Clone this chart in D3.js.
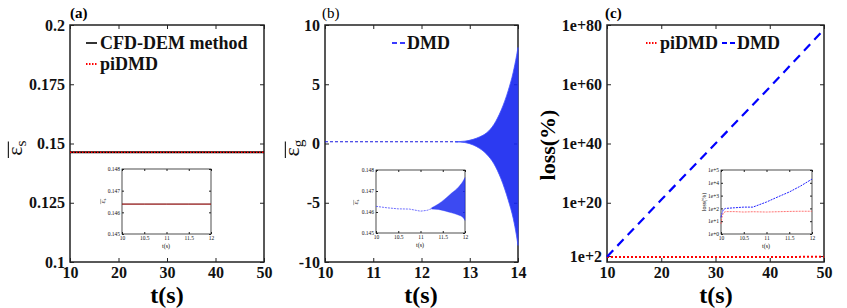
<!DOCTYPE html>
<html>
<head>
<meta charset="utf-8">
<script src="https://cdn.jsdelivr.net/npm/d3@7"></script>
<style>
body { margin: 0; background: #fff; }
</style>
</head>
<body>
<svg id="chart"></svg>
<script>
// ---- data ----
// (a) mean solid fraction, CFD-DEM vs piDMD
var timeA = [10, 20, 30, 40, 50];
var cfdDemA = [0.1463, 0.1463, 0.1463, 0.1463, 0.1463];
var piDmdA = [0.1463, 0.1463, 0.1463, 0.1463, 0.1463];
var insetTimeA = [10, 10.5, 11, 11.5, 12];
var insetCfdA = [0.14638, 0.14638, 0.14638, 0.14638, 0.14638];
var insetPiA = [0.14638, 0.14638, 0.14638, 0.14638, 0.14638];

// (b) DMD, flat then blowing up
var timeB = [10, 11, 12, 12.5, 12.8];
var dmdB = [0.146, 0.146, 0.146, 0.146, 0.146];
var envTimeB = [12.7, 12.9, 13.07, 13.2, 13.35, 13.5, 13.65, 13.8, 13.9, 13.97, 14.0];
var envHiB = [0.15, 0.2, 0.35, 0.55, 0.9, 1.6, 2.8, 4.5, 6.0, 7.4, 8.1];
var envLoB = [0.14, 0.08, -0.12, -0.4, -0.9, -1.7, -3.0, -4.8, -6.3, -7.8, -8.6];
var insetTimeB = [10, 10.25, 10.5, 10.75, 11, 11.15, 11.3];
var insetDmdB = [0.14627, 0.14620, 0.14615, 0.14614, 0.14604, 0.14608, 0.14620];
var insetEnvTimeB = [11.25, 11.4, 11.55, 11.7, 11.85, 11.95, 12];
var insetEnvHiB = [0.14620, 0.14638, 0.14662, 0.14690, 0.14718, 0.14745, 0.14764];
var insetEnvLoB = [0.14614, 0.14612, 0.14605, 0.14596, 0.14586, 0.14575, 0.14560];

// (c) loss (%) on log axis
var timeC = [10, 20, 30, 40, 50];
var piDmdC = [50, 52, 52, 52, 55];
var dmdC = [60, 1e21, 1e40, 1e59, 3e78];
var insetTimeC = [10, 10.02, 10.05, 10.1, 10.3, 10.5, 10.7, 11, 11.25, 11.5, 11.75, 12];
var insetDmdC = [20, 40, 79, 100, 112, 126, 126, 316, 794, 1905, 5623, 19498];
var insetPiC = [6.2, 20, 45, 56, 56, 52, 55, 52, 55, 58, 60, 60];

var ticksA = [0.1, 0.125, 0.15, 0.175, 0.2];
var ticksB = [-10, -5, 0, 5, 10];
var ticksC = [1e2, 1e20, 1e40, 1e60, 1e80];
var tickLabelsC = ["1e+2", "1e+20", "1e+40", "1e+60", "1e+80"];
var insetTicksC = [1, 10, 100, 1e3, 1e4, 1e5];
var insetTickLabelsC = ["1e+0", "1e+1", "1e+2", "1e+3", "1e+4", "1e+5"];

var svg = d3.select("#chart").attr("width", 847).attr("height", 308);
var plain = function (d) { return d; };

function box(g, x, y, len, labels, fs, fw, pad, yFmt, xTicks, yTicks) {
  var x0 = x.range()[0], x1 = x.range()[1], y0 = y.range()[0], y1 = y.range()[1];
  var bottom = d3.axisBottom(x).tickValues(xTicks).tickSizeInner(-len).tickSizeOuter(0).tickPadding(pad).tickFormat(plain);
  var left = d3.axisLeft(y).tickValues(yTicks).tickSizeInner(-len).tickSizeOuter(0).tickPadding(pad).tickFormat(yFmt);
  var gb = g.append("g").attr("transform", "translate(0," + y0 + ")").call(bottom);
  var gl = g.append("g").attr("transform", "translate(" + x0 + ",0)").call(left);
  g.append("g").attr("transform", "translate(0," + y1 + ")")
    .call(d3.axisTop(x).tickValues(xTicks).tickSizeInner(-len).tickSizeOuter(0).tickFormat(""));
  g.append("g").attr("transform", "translate(" + x1 + ",0)")
    .call(d3.axisRight(y).tickValues(yTicks).tickSizeInner(-len).tickSizeOuter(0).tickFormat(""));
  g.selectAll(".domain").remove();
  g.selectAll(".tick line").attr("stroke", "#222");
  [gb, gl].forEach(function (a) {
    a.selectAll("text").attr("font-size", fs).attr("font-weight", fw).attr("fill", "#111");
  });
  g.append("rect").attr("x", x0).attr("y", y1).attr("width", x1 - x0).attr("height", y0 - y1)
    .attr("fill", "none").attr("stroke", "#222").attr("stroke-width", labels ? 1.5 : 0.8);
  return { bottom: gb, left: gl };
}

function lineOf(x, y, xs, ys) {
  return d3.line().x(function (d, i) { return x(xs[i]); }).y(function (d, i) { return y(ys[i]); })(xs);
}
function areaOf(x, y, xs, hi, lo) {
  return d3.area().curve(d3.curveMonotoneX).x(function (d, i) { return x(xs[i]); })
    .y0(function (d, i) { return y(lo[i]); }).y1(function (d, i) { return y(hi[i]); })(xs);
}

function epsLabel(g, cx, cy, sub, size) {
  var lg = g.append("g").attr("transform", "translate(" + cx + "," + cy + ") rotate(-90)");
  var t = lg.append("text").attr("text-anchor", "middle").attr("font-size", size).attr("fill", "#111");
  t.append("tspan").text("ε");
  t.append("tspan").attr("font-size", size * 0.7).attr("dy", size * 0.2).text(sub);
  lg.append("line").attr("x1", -size * 0.45).attr("x2", size * 0.3)
    .attr("y1", -size * 0.62).attr("y2", -size * 0.62).attr("stroke", "#111").attr("stroke-width", size * 0.05);
}

function legendItem(g, x, y, kind, color, label) {
  var l = g.append("line").attr("x1", x).attr("x2", x + 11).attr("y1", y).attr("y2", y)
    .attr("stroke", color).attr("stroke-width", kind === "solid" ? 1.6 : 2);
  if (kind === "dot") l.attr("stroke-dasharray", "1.5,1.5");
  if (kind === "dash") l.attr("x2", x + 13).attr("stroke-dasharray", "5,3");
  g.append("text").attr("x", x + (kind === "dash" ? 15 : 14)).attr("y", y + 6)
    .attr("font-size", 18).attr("font-weight", "bold").attr("fill", "#111").text(label);
}

function xTitle(g, cx) {
  g.append("text").attr("x", cx).attr("y", 303).attr("text-anchor", "middle")
    .attr("font-size", 24).attr("font-weight", "bold").text("t(s)");
}

// ---------- panel (a) ----------
var gA = svg.append("g");
var xA = d3.scaleLinear().domain([10, 50]).range([70, 264]);
var yA = d3.scaleLinear().domain([0.1, 0.2]).range([262, 25]);
box(gA, xA, yA, 4, true, 16, "bold", 5, plain, [10, 20, 30, 40, 50], ticksA);
gA.append("path").attr("d", lineOf(xA, yA, timeA, cfdDemA)).attr("fill", "none").attr("stroke", "#000").attr("stroke-width", 2);
gA.append("path").attr("d", lineOf(xA, yA, timeA, piDmdA)).attr("fill", "none").attr("stroke", "#ff0000")
  .attr("stroke-width", 1.4).attr("stroke-dasharray", "1.5,1.5");
legendItem(gA, 86, 43, "solid", "#000", "CFD-DEM method");
legendItem(gA, 86, 64, "dot", "#ff0000", "piDMD");
gA.append("text").attr("x", 70).attr("y", 18).attr("font-size", 15).attr("font-weight", "bold").text("(a)");
xTitle(gA, 167);
epsLabel(gA, 22, 148, "s", 22);

// inset (a)
var ixA = d3.scaleLinear().domain([10, 12]).range([122, 211]);
var iyA = d3.scaleLinear().domain([0.145, 0.148]).range([234, 169]);
var giA = gA.append("g");
giA.append("rect").attr("x", 122).attr("y", 169).attr("width", 89).attr("height", 65).attr("fill", "#fff");
box(giA, ixA, iyA, 2, false, 5.5, "normal", 2, d3.format(".3f"), insetTimeA, [0.145, 0.146, 0.147, 0.148]);
giA.append("path").attr("d", lineOf(ixA, iyA, insetTimeA, insetCfdA)).attr("fill", "none").attr("stroke", "#000").attr("stroke-width", 0.8);
giA.append("path").attr("d", lineOf(ixA, iyA, insetTimeA, insetPiA)).attr("fill", "none").attr("stroke", "#e02020").attr("stroke-width", 0.8);
giA.append("text").attr("x", 166).attr("y", 248).attr("text-anchor", "middle").attr("font-size", 6).text("t(s)");
epsLabel(giA, 105, 201, "s", 7);

// ---------- panel (b) ----------
var gB = svg.append("g");
var xB = d3.scaleLinear().domain([10, 14]).range([325, 518]);
var yB = d3.scaleLinear().domain([-10, 10]).range([262, 25]);
box(gB, xB, yB, 4, true, 16, "bold", 5, plain, [10, 11, 12, 13, 14], ticksB);
gB.append("path").attr("d", lineOf(xB, yB, timeB, dmdB)).attr("fill", "none").attr("stroke", "#1a1ae0")
  .attr("stroke-width", 1.2).attr("stroke-dasharray", "3,2");
gB.append("path").attr("d", areaOf(xB, yB, envTimeB, envHiB, envLoB)).attr("fill", "#1525f0").attr("fill-opacity", 0.9)
  .attr("stroke", "#4050ff").attr("stroke-width", 0.8);
legendItem(gB, 392, 43, "dash", "#3a3aff", "DMD");
gB.append("text").attr("x", 322).attr("y", 18).attr("font-size", 15).text("(b)");
xTitle(gB, 421);
epsLabel(gB, 299, 148, "g", 22);

// inset (b)
var ixB = d3.scaleLinear().domain([10, 12]).range([376, 465]);
var iyB = d3.scaleLinear().domain([0.145, 0.148]).range([233, 170]);
var giB = gB.append("g");
giB.append("rect").attr("x", 376).attr("y", 170).attr("width", 89).attr("height", 63).attr("fill", "#fff");
box(giB, ixB, iyB, 2, false, 5.5, "normal", 2, d3.format(".3f"), [10, 10.5, 11, 11.5, 12], [0.145, 0.146, 0.147, 0.148]);
giB.append("path").attr("d", lineOf(ixB, iyB, insetTimeB, insetDmdB)).attr("fill", "none").attr("stroke", "#4a4aff")
  .attr("stroke-width", 0.8).attr("stroke-dasharray", "2,1");
giB.append("path").attr("d", areaOf(ixB, iyB, insetEnvTimeB, insetEnvHiB, insetEnvLoB)).attr("fill", "#1a2af0")
  .attr("fill-opacity", 0.85).attr("stroke", "#3040ff").attr("stroke-width", 0.4);
giB.append("text").attr("x", 420).attr("y", 247).attr("text-anchor", "middle").attr("font-size", 6).text("t(s)");
epsLabel(giB, 358, 202, "s", 7);

// ---------- panel (c) ----------
var gC = svg.append("g");
var xC = d3.scaleLinear().domain([10, 50]).range([607, 824]);
var yC = d3.scaleLog().domain([1, 1e80]).range([262, 25]);
box(gC, xC, yC, 4, true, 16, "bold", 5, function (d, i) { return tickLabelsC[i]; }, [10, 20, 30, 40, 50], ticksC);
gC.append("path").attr("d", lineOf(xC, yC, timeC, piDmdC)).attr("fill", "none").attr("stroke", "#ff0000")
  .attr("stroke-width", 2).attr("stroke-dasharray", "2,2");
gC.append("path").attr("d", lineOf(xC, yC, timeC, dmdC)).attr("fill", "none").attr("stroke", "#0000ff")
  .attr("stroke-width", 2.2).attr("stroke-dasharray", "9,6");
legendItem(gC, 646, 43, "dot", "#ff0000", "piDMD");
legendItem(gC, 722, 43, "dash", "#0000ff", "DMD");
gC.append("text").attr("x", 605).attr("y", 18).attr("font-size", 15).attr("font-weight", "bold").text("(c)");
xTitle(gC, 716);
gC.append("text").attr("transform", "translate(555,145) rotate(-90)").attr("text-anchor", "middle")
  .attr("font-size", 22).attr("font-weight", "bold").text("loss(%)");

// inset (c)
var ixC = d3.scaleLinear().domain([10, 12]).range([721, 812]);
var iyC = d3.scaleLog().domain([1, 1e5]).range([234, 170]);
var giC = gC.append("g");
giC.append("rect").attr("x", 721).attr("y", 170).attr("width", 91).attr("height", 64).attr("fill", "#fff");
box(giC, ixC, iyC, 2, false, 5.5, "normal", 2, function (d, i) { return insetTickLabelsC[i]; }, [10, 10.5, 11, 11.5, 12], insetTicksC);
giC.append("path").attr("d", lineOf(ixC, iyC, insetTimeC, insetPiC)).attr("fill", "none").attr("stroke", "#ff5050")
  .attr("stroke-width", 0.8).attr("stroke-dasharray", "2,1");
giC.append("path").attr("d", lineOf(ixC, iyC, insetTimeC, insetDmdC)).attr("fill", "none").attr("stroke", "#2020ff")
  .attr("stroke-width", 1).attr("stroke-dasharray", "2,1");
giC.append("text").attr("x", 766).attr("y", 248).attr("text-anchor", "middle").attr("font-size", 6).text("t(s)");
giC.append("text").attr("transform", "translate(706,202) rotate(-90)").attr("text-anchor", "middle")
  .attr("font-size", 6).text("loss(%)");

// serif everywhere (inline style beats the axis font attribute)
svg.selectAll("text").style("font-family", '"Liberation Serif", "Times New Roman", serif');
</script>
</body>
</html>
